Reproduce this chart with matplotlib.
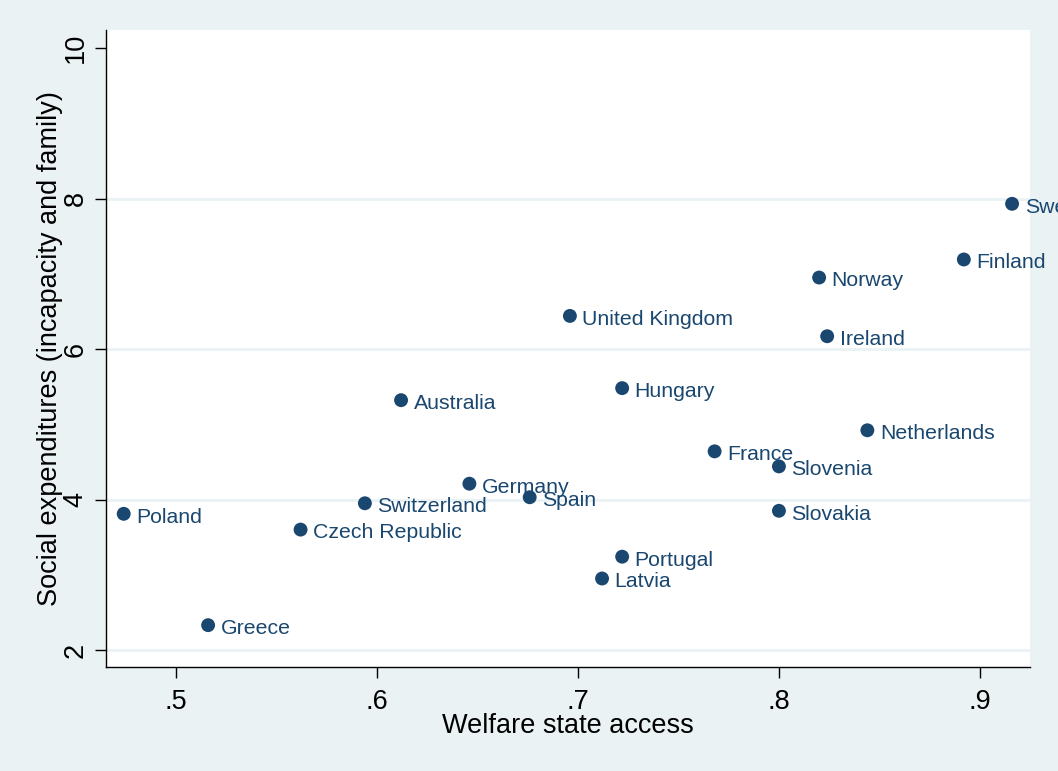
import matplotlib
matplotlib.use("Agg")
import matplotlib.pyplot as plt

# Country-level welfare state access vs. social expenditures
countries = ["Sweden", "Finland", "Norway", "United Kingdom", "Ireland",
             "Hungary", "Australia", "Netherlands", "France", "Slovenia",
             "Germany", "Switzerland", "Spain", "Slovakia", "Poland",
             "Czech Republic", "Portugal", "Latvia", "Greece"]
access = [0.916, 0.892, 0.820, 0.696, 0.824,
          0.722, 0.612, 0.844, 0.768, 0.800,
          0.646, 0.594, 0.676, 0.800, 0.474,
          0.562, 0.722, 0.712, 0.516]
expenditures = [7.93, 7.19, 6.95, 6.44, 6.17,
                5.48, 5.32, 4.92, 4.64, 4.44,
                4.21, 3.95, 4.03, 3.85, 3.81,
                3.60, 3.24, 2.95, 2.33]

x_ticks = [0.5, 0.6, 0.7, 0.8, 0.9]
x_tick_labels = [".5", ".6", ".7", ".8", ".9"]
y_ticks = [2, 4, 6, 8, 10]
y_grid = [2, 4, 6, 8]

navy = "#1a476f"
bluish_gray = "#eaf2f3"

plt.rcParams["font.family"] = ["Liberation Sans", "DejaVu Sans"]

fig = plt.figure(figsize=(10.58, 7.71), dpi=100, facecolor=bluish_gray)
ax = fig.add_axes([0.1002, 0.1349, 0.8733, 0.8262])
ax.set_facecolor("white")

for g in y_grid:
    ax.axhline(g, color=bluish_gray, linewidth=2.0, zorder=1)

ax.scatter(access, expenditures, s=10 ** 2, color=navy, zorder=3,
           edgecolors="none")
for name, xv, yv in zip(countries, access, expenditures):
    ax.annotate(name, (xv, yv), xytext=(9.0, -2.4), textcoords="offset points",
                ha="left", va="center", fontsize=15.3, color=navy,
                zorder=4, annotation_clip=False)

ax.set_xlim(0.4652, 0.9249)
ax.set_ylim(1.774, 10.24)

ax.set_xticks(x_ticks)
ax.set_xticklabels(x_tick_labels)
ax.set_yticks(y_ticks)
ax.set_yticklabels([str(t) for t in y_ticks], rotation=90, va="center")

ax.tick_params(axis="both", direction="out", length=8, width=1.0,
               color="black", labelsize=19.5, labelcolor="black")
ax.tick_params(axis="x", pad=8)
ax.tick_params(axis="y", pad=4.5)

for side in ["top", "right"]:
    ax.spines[side].set_visible(False)
for side in ["left", "bottom"]:
    ax.spines[side].set_color("black")
    ax.spines[side].set_linewidth(1.0)

ax.set_xlabel("Welfare state access", fontsize=19.5, labelpad=-1.5)
ax.set_ylabel("Social expenditures (incapacity and family)", fontsize=19.5,
              labelpad=0)

fig.savefig("out.png", dpi=100, facecolor=bluish_gray)
